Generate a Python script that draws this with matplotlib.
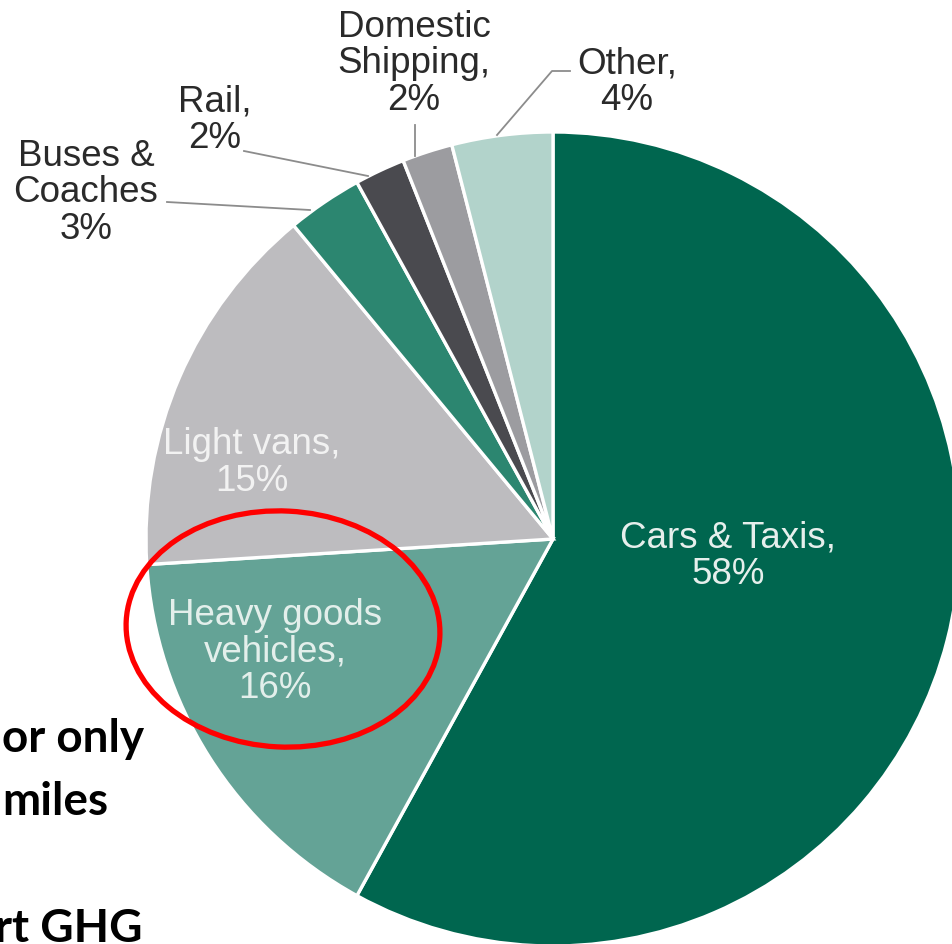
import matplotlib
matplotlib.use("Agg")
import matplotlib.pyplot as plt
from matplotlib.patches import Ellipse

# ---- data ----
categories = ["Cars & Taxis", "Heavy goods\nvehicles", "Light vans", "Buses &\nCoaches",
              "Rail", "Domestic\nShipping", "Other"]
shares = [58, 16, 15, 3, 2, 2, 4]
colors = ["#00664F", "#64A396", "#BDBCBF", "#2C8670", "#4A4A4F", "#9C9CA0", "#B2D3CB"]
side_text = ["or only", "miles", "rt GHG"]

W, H = 953, 945
fig = plt.figure(figsize=(W / 100, H / 100), dpi=100)
ax = fig.add_axes([0, 0, 1, 1])

cx, cy, R = 553, H - 540, 407
wedges, _ = ax.pie(shares, colors=colors, startangle=90, counterclock=False,
                   center=(cx, cy), radius=R, frame=True,
                   wedgeprops=dict(edgecolor="white", linewidth=2.4))
ax.set_xlim(0, W)
ax.set_ylim(0, H)
ax.set_aspect("equal")
ax.axis("off")

font = "Liberation Sans"
fs = 26.5

def lab(i, x, y, color, ls=1.05):
    txt = f"{categories[i]},\n{shares[i]}%" if "&\n" not in categories[i] else f"{categories[i]}\n{shares[i]}%"
    ax.text(x, H - y, txt, ha="center", va="center", fontsize=fs, family=font,
            color=color, linespacing=ls)

# inside labels
lab(0, 728, 556, "#E6EFEC")
lab(1, 275, 652, "#E3EFEB")
lab(2, 252, 463, "#F2F2F2")
# outside labels
lab(3, 86, 193, "#2A2A2A")
lab(4, 215, 120, "#2A2A2A")
lab(5, 414, 64, "#2A2A2A")
lab(6, 627, 82, "#2A2A2A")

# leader lines
lc = "#8C8C8C"
ax.plot([167, 310], [H - 203, H - 211], color=lc, lw=1.3)
ax.plot([244, 368], [H - 152, H - 177], color=lc, lw=1.3)
ax.plot([415, 415], [H - 126, H - 157], color=lc, lw=1.3)
ax.plot([570, 552, 497], [H - 72, H - 72, H - 136], color=lc, lw=1.3)

# highlight ellipse
ax.add_patch(Ellipse((283, H - 630), 314, 236, angle=-3, fill=False,
                     edgecolor="#FF0000", lw=3.8))

# partial bold text on the left
for t, x, y in zip(side_text, [144, 108, 143], [752, 815, 942]):
    ax.text(x, H - y, t, ha="right", va="baseline", fontsize=33, family="Lato",
            fontweight="bold", color="black")

fig.savefig("out.png", dpi=100)
